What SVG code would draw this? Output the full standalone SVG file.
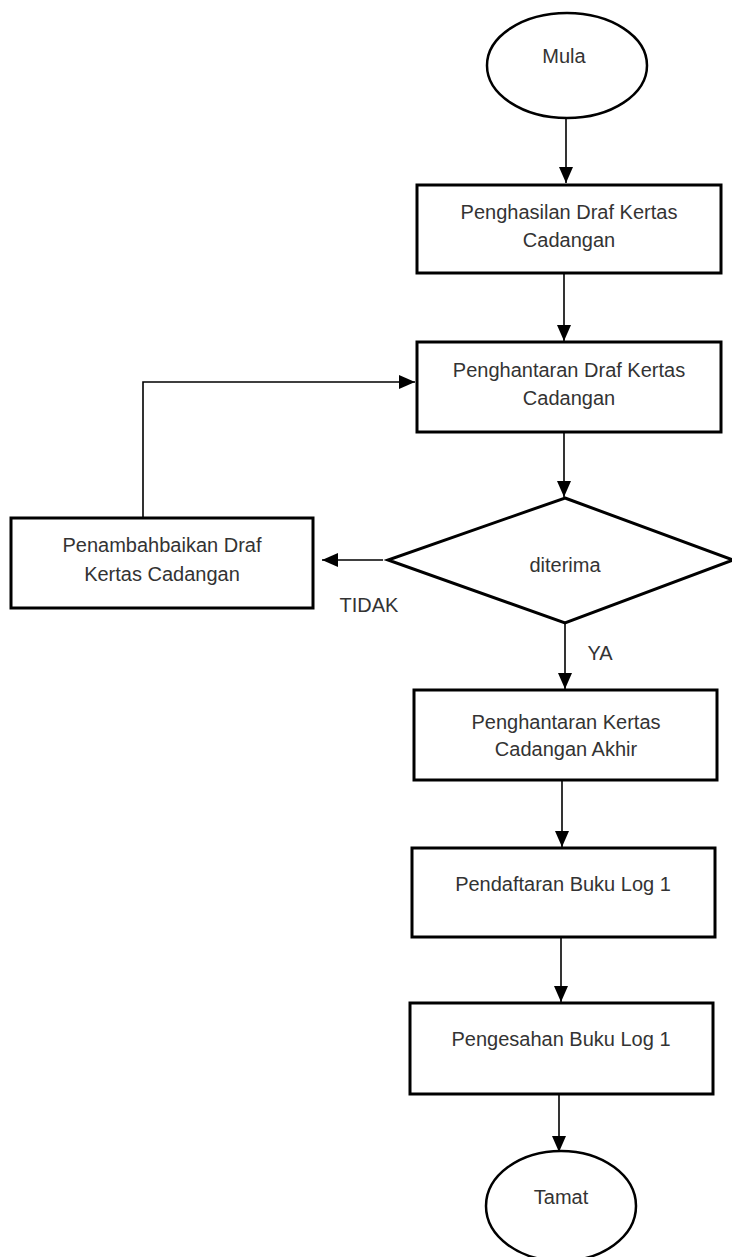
<svg xmlns="http://www.w3.org/2000/svg" width="732" height="1257" viewBox="0 0 732 1257">
  <defs>
    <marker id="arr" viewBox="0 0 16 14" refX="16" refY="7" markerWidth="16" markerHeight="14" markerUnits="userSpaceOnUse" orient="auto">
      <path d="M0,0 L16,7 L0,14 Z" fill="#000"/>
    </marker>
    <style>
      .box { fill: #fff; stroke: #000; stroke-width: 3; }
      .term { fill: #fff; stroke: #000; stroke-width: 2.5; }
      .lbl { font-family: "Liberation Sans", Arial, sans-serif; font-size: 20px; fill: #333; text-anchor: middle; }
      .edge { fill: none; stroke: #000; stroke-width: 1.6; }
      .arrow { marker-end: url(#arr); }
    </style>
  </defs>
  <rect width="732" height="1257" fill="#fff"/>

  <g id="connectors">
    <line class="edge arrow" x1="566" y1="118" x2="566" y2="183"/>
    <line class="edge arrow" x1="564" y1="274" x2="564" y2="341"/>
    <line class="edge arrow" x1="564" y1="432" x2="564" y2="497"/>
    <line class="edge arrow" x1="565" y1="623" x2="565" y2="689"/>
    <line class="edge arrow" x1="562" y1="780" x2="562" y2="847"/>
    <line class="edge arrow" x1="561" y1="937" x2="561" y2="1002"/>
    <line class="edge arrow" x1="559" y1="1094" x2="559" y2="1152"/>
    <line class="edge arrow" x1="383" y1="560" x2="322" y2="560"/>
    <polyline class="edge arrow" points="143,518 143,382 415,382"/>
    <text class="lbl" x="369" y="612">TIDAK</text>
    <text class="lbl" x="600" y="660">YA</text>
  </g>

  <g id="mula">
    <ellipse class="term" cx="567" cy="65.5" rx="80" ry="52.5"/>
    <text class="lbl" x="564" y="63">Mula</text>
  </g>

  <g id="penghasilan">
    <rect class="box" x="417" y="185" width="304" height="88"/>
    <text class="lbl" x="569" y="219">Penghasilan Draf Kertas</text>
    <text class="lbl" x="569" y="247">Cadangan</text>
  </g>

  <g id="penghantaran-draf">
    <rect class="box" x="417" y="342" width="304" height="90"/>
    <text class="lbl" x="569" y="377">Penghantaran Draf Kertas</text>
    <text class="lbl" x="569" y="405">Cadangan</text>
  </g>

  <g id="diterima">
    <polygon class="box" points="565,498 733,560 565,623 388,560"/>
    <text class="lbl" x="565" y="572">diterima</text>
  </g>

  <g id="penambahbaikan">
    <rect class="box" x="11" y="518" width="302" height="90"/>
    <text class="lbl" x="162" y="552">Penambahbaikan Draf</text>
    <text class="lbl" x="162" y="581">Kertas Cadangan</text>
  </g>

  <g id="penghantaran-akhir">
    <rect class="box" x="414" y="690" width="303" height="90"/>
    <text class="lbl" x="566" y="729">Penghantaran Kertas</text>
    <text class="lbl" x="566" y="756">Cadangan Akhir</text>
  </g>

  <g id="pendaftaran">
    <rect class="box" x="412" y="848" width="303" height="89"/>
    <text class="lbl" x="563" y="891">Pendaftaran Buku Log 1</text>
  </g>

  <g id="pengesahan">
    <rect class="box" x="410" y="1003" width="303" height="91"/>
    <text class="lbl" x="561" y="1046">Pengesahan Buku Log 1</text>
  </g>

  <g id="tamat">
    <ellipse class="term" cx="561" cy="1206" rx="75" ry="55"/>
    <text class="lbl" x="561" y="1204">Tamat</text>
  </g>
</svg>
